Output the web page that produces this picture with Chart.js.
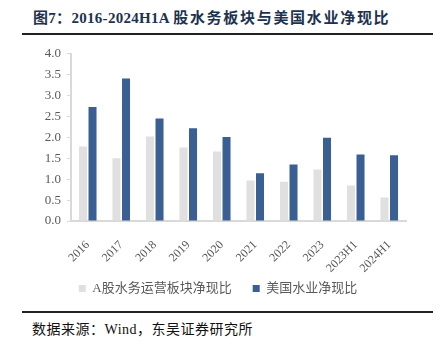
<!DOCTYPE html>
<html>
<head>
<meta charset="utf-8">
<script src="https://cdn.jsdelivr.net/npm/chart.js@4"></script>
<style>
  body { margin: 0; background: #fff; width: 446px; height: 350px; position: relative; overflow: hidden; }
  #title { position: absolute; left: 33px; top: 6px; font: bold 15px "Liberation Serif", "Noto Sans CJK SC", serif; color: #1c3350; white-space: nowrap; letter-spacing: 0.3px; }
  #title span { letter-spacing: 1.7px; }
  .rule { position: absolute; left: 22px; width: 411px; height: 2px; background: #222; }
  #box { position: absolute; left: 0; top: 40px; width: 446px; height: 265px; }
  #source { position: absolute; left: 32px; top: 318px; font: 14px "Liberation Serif", "Noto Sans CJK SC", serif; color: #111; white-space: nowrap; letter-spacing: 0.5px; }
</style>
</head>
<body>
<div id="title">图7：2016-2024H1A <span>股水务板块与美国水业净现比</span></div>
<div class="rule" style="top:33px"></div>
<div id="box"><canvas id="my_chart"></canvas></div>
<div class="rule" style="top:311px"></div>
<div id="source">数据来源：Wind，东吴证券研究所</div>
<script>
var categories = ["2016", "2017", "2018", "2019", "2020", "2021", "2022", "2023", "2023H1", "2024H1"]
var a_share = [1.78, 1.50, 2.02, 1.76, 1.66, 0.97, 0.94, 1.23, 0.85, 0.56]
var us_water = [2.73, 3.41, 2.45, 2.22, 2.01, 1.14, 1.35, 1.99, 1.59, 1.57]
var y_ticks = ["0.0", "0.5", "1.0", "1.5", "2.0", "2.5", "3.0", "3.5", "4.0"]

var serif = '"Liberation Serif", "Noto Sans CJK SC", serif'

var ctx = document.getElementById("my_chart")
var my_chart = new Chart(ctx, {
  type: 'bar',
  data: {
    labels: categories,
    datasets: [
      // trailing spaces widen the gap between the two legend items
      { label: 'A股水务运营板块净现比    ', data: a_share, backgroundColor: '#e0e0e0', categoryPercentage: 0.57, barPercentage: 0.84 },
      { label: '美国水业净现比', data: us_water, backgroundColor: '#3a5f93', categoryPercentage: 0.57, barPercentage: 0.84 }
    ]
  },
  options: {
    responsive: true,
    maintainAspectRatio: false,
    animation: false,
    layout: { padding: { left: 30, right: 40, top: 6, bottom: 0 } },
    plugins: {
      tooltip: { enabled: false },
      legend: {
        position: 'bottom',
        labels: { boxWidth: 7, boxHeight: 7, padding: 8, color: '#595959', font: { family: serif, size: 13 } }
      }
    },
    scales: {
      x: {
        afterFit: function(scale) { scale.height = 53 },
        grid: { display: false },
        border: { color: '#d9d9d9', width: 2 },
        ticks: { color: '#595959', minRotation: 45, maxRotation: 45, font: { family: serif, size: 12 }, padding: 9 }
      },
      y: {
        min: 0, max: 4,
        afterFit: function(scale) { scale.width = 41 },
        grid: { drawOnChartArea: false, color: '#d9d9d9', tickLength: 4 },
        border: { color: '#d9d9d9', width: 2 },
        ticks: {
          stepSize: 0.5, color: '#595959', font: { family: serif, size: 13 }, padding: 6,
          callback: function(v, i) { return y_ticks[i] }
        }
      }
    }
  }
})
</script>
</body>
</html>
